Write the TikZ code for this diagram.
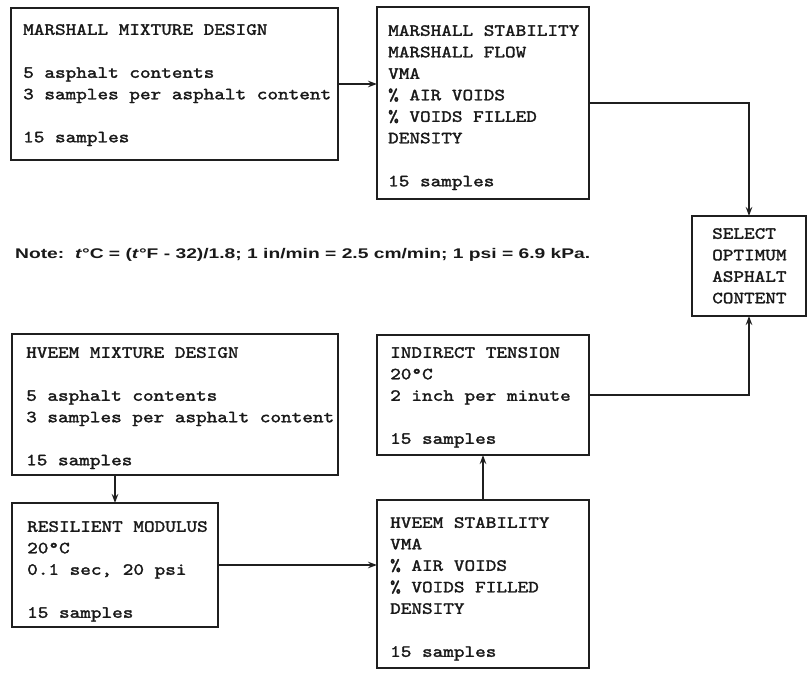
\documentclass[tikz,border=0pt]{standalone}
\usepackage{fontspec}
\setsansfont{Liberation Sans}
\newfontfamily\tw[FakeStretch=1.19,FakeBold=1.8]{lmmono10-regular.otf}
\usetikzlibrary{arrows.meta,calc}
\begin{document}
\begin{tikzpicture}[x=1bp,y=-1bp,
  box/.style={draw=black!88, line width=1.8bp, anchor=north west, inner sep=0pt, outer sep=0pt},
  txt/.style={anchor=north west, inner sep=0pt, align=left, font=\tw\fontsize{17bp}{21.5bp}\selectfont, text=black!90},
  arr/.style={line width=2.2bp, draw=black!88, -{Stealth[length=9bp,width=6.5bp]}}]
\useasboundingbox (0,0) rectangle (809,673);
% boxes
\node[box, minimum width=327bp, minimum height=152bp] (b1) at (11,8) {};
\node[box, minimum width=212bp, minimum height=192bp] (b2) at (377,7) {};
\node[box, minimum width=114bp, minimum height=100bp] (b3) at (692,216) {};
\node[box, minimum width=326bp, minimum height=141bp] (b4) at (12,334) {};
\node[box, minimum width=212bp, minimum height=120bp] (b5) at (377,335) {};
\node[box, minimum width=206bp, minimum height=124bp] (b6) at (12,503) {};
\node[box, minimum width=212bp, minimum height=168bp] (b7) at (377,500) {};
% texts
\node[txt] (t1) at (23,24) {MARSHALL MIXTURE DESIGN\\[21.5bp]5 asphalt contents\\3 samples per asphalt content\\[21.5bp]15 samples};
\node[txt] (t2) at (388,25) {MARSHALL STABILITY\\MARSHALL FLOW\\VMA\\\% AIR VOIDS\\\% VOIDS FILLED\\DENSITY\\[21.5bp]15 samples};
\node[txt] (t3) at (712,228) {SELECT\\OPTIMUM\\ASPHALT\\CONTENT};
\node[txt] (t4) at (26,347) {HVEEM MIXTURE DESIGN\\[21.5bp]5 asphalt contents\\3 samples per asphalt content\\[21.5bp]15 samples};
\node[txt] (t5) at (390,347) {INDIRECT TENSION\\20°C\\2 inch per minute\\[21.5bp]15 samples};
\node[txt] (t6) at (27,521) {RESILIENT MODULUS\\20°C\\0.1 sec, 20 psi\\[21.5bp]15 samples};
\node[txt] (t7) at (390,517) {HVEEM STABILITY\\VMA\\\% AIR VOIDS\\\% VOIDS FILLED\\DENSITY\\[21.5bp]15 samples};
% note
\node[anchor=west, inner sep=0pt, text=black!90, font=\sffamily\bfseries\fontsize{14bp}{16bp}\selectfont] (note) at (15,255)
  {\resizebox{575bp}{\height}{Note:\ \ \textit{t}°C = (\textit{t}°F - 32)/1.8; 1 in/min = 2.5 cm/min; 1 psi = 6.9 kPa.}};
% connectors
\draw[arr] (b1.east) -- (b1.east -| b2.west);
\draw[arr] (b2.east) -| (b3.north);
\draw[arr] (b5.east) -| (b3.south);
\draw[arr] (b4.south -| b6.north) -- (b6.north);
\draw[arr] (b6.east) -- (b6.east -| b7.west);
\draw[arr] (b7.north) -- (b5.south);
\end{tikzpicture}
\end{document}
